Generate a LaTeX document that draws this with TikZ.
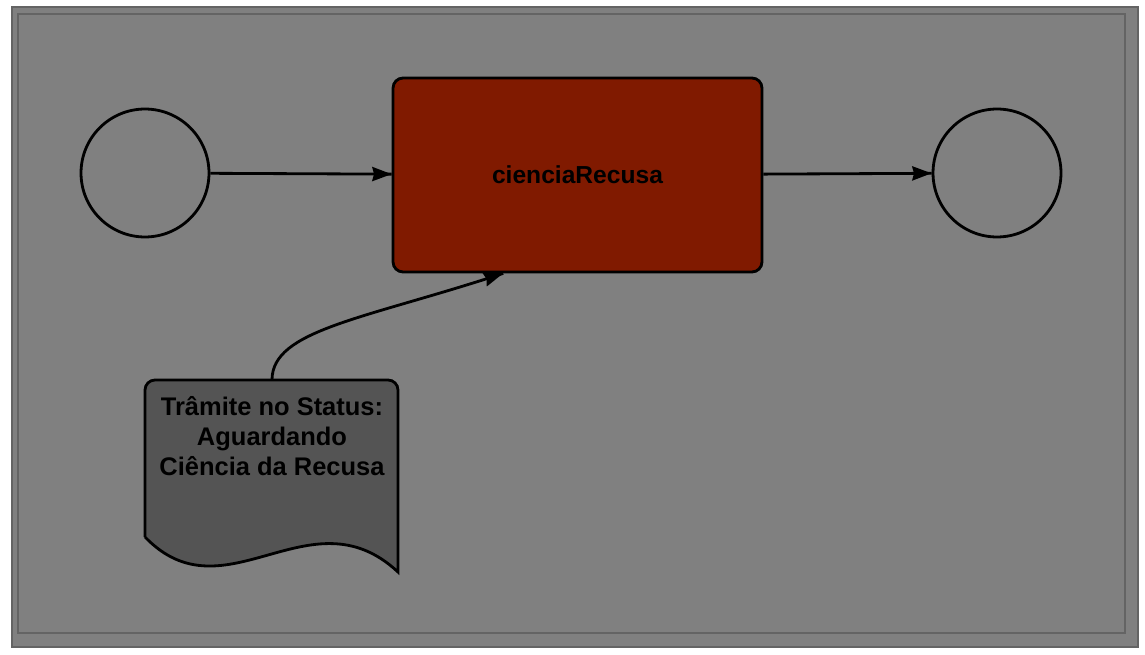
\documentclass[tikz,border=0pt]{standalone}
\usepackage{fontspec}
\setmainfont{Liberation Sans}
\usetikzlibrary{calc,arrows.meta,decorations.markings}
\tikzset{flow/.style = {decoration={markings, mark=at position 1 with {\arrow{Stealth[length=11pt, width=8pt, inset=1pt]}}}, postaction={decorate}}}
\definecolor{canvas}{RGB}{128,128,128}
\definecolor{rim}{RGB}{100,100,100}
\definecolor{taskred}{RGB}{128,26,0}
\definecolor{notegray}{RGB}{84,84,84}

\begin{document}
\begin{tikzpicture}[x = 0.02cm, y = -0.02cm, line width = 1.6pt,
  eventnode/.style = {circle, draw, minimum size = 2.56cm, inner sep = 0pt},
  tasknode/.style = {draw, rounded corners = 0.2cm, fill = taskred, minimum width = 7.38cm, minimum height = 3.88cm, font = \bfseries\fontsize{14}{17}\selectfont},
  notetext/.style = {anchor = north, align = center, inner xsep = 0pt, inner ysep = 0.3cm, font = \bfseries\fontsize{14.5}{17}\selectfont}]
\useasboundingbox (0,0) rectangle (1145,655);
\fill[white] (0,0) rectangle (1145,655);
\draw[fill = canvas, draw = rim, line width = 1pt] (12,7) rectangle (1138,647);
\draw[rim, line width = 1.2pt] (18,14) rectangle (1125,633);
\node[eventnode] (inicio) at (145,173) {};
\node[tasknode] (ciencia) at (577.5,175) {\raisebox{-2pt}{cienciaRecusa}};
\node[eventnode] (fim) at (997,173) {};
\draw[fill = notegray] {[rounded corners = 0.2cm] (145,537) -- (145,380) -- (398,380)} -- (398,572)
  .. controls (310,490) and (225,620) .. (145,537);
\node[notetext] (status) at (272,380) {Trâmite no Status:\\Aguardando\\Ciência da Recusa};
\draw[flow] (inicio) -- (ciencia);
\draw[flow] (ciencia) -- (fim);
\draw[flow] (status.north) .. controls +(0,-50) and +(-140,46) .. ($(ciencia.south west)!0.3!(ciencia.south east)$);
\end{tikzpicture}
\end{document}
